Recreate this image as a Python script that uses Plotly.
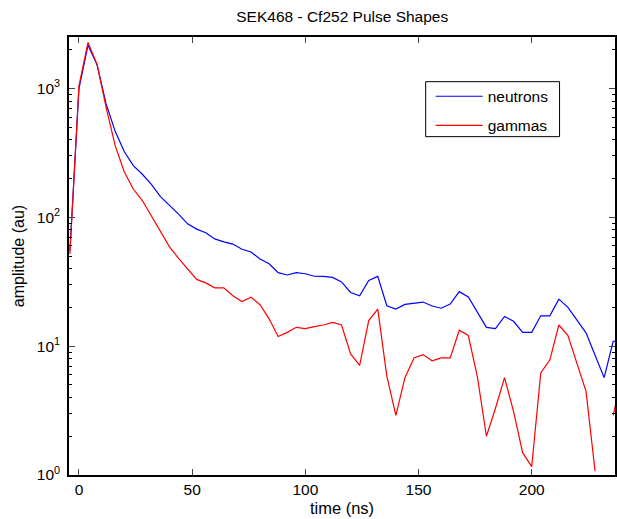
import plotly.graph_objects as go

# time axis (ns)
time_ns = [-4, 0, 4, 8, 12, 16, 20, 24, 28, 32, 36, 40, 44, 48, 52, 56, 60, 64, 68, 72,
           76, 80, 84, 88, 92, 96, 100, 104, 108, 112, 116, 120, 124, 128, 132, 136, 140,
           144, 148, 152, 156, 160, 164, 168, 172, 176, 180, 184, 188, 192, 196, 200, 204,
           208, 212, 216, 220, 224, 228, 232, 236, 240]

neutrons = [55, 1000, 2170, 1530, 760, 465, 324, 252, 216, 180, 145, 125, 106, 89, 81, 76,
            68, 64.5, 62, 56.5, 53.8, 47.5, 43.6, 37.2, 35.7, 37.2, 36.5, 34.9, 34.8, 34.2,
            31.5, 26.1, 24.6, 32.4, 34.8, 20.6, 19.4, 21.1, 21.6, 22.0, 20.5, 19.7, 21.2,
            26.5, 24.1, 18.3, 14.0, 13.7, 17.0, 15.6, 12.8, 12.8, 17.2, 17.2, 23.2, 20.0,
            16.0, 12.7, 8.5, 5.7, 10.9, 11.0]

gammas = [52, 1050, 2280, 1540, 715, 360, 226, 166, 135, 103, 78, 59, 48, 40, 33, 31,
          28.4, 28.4, 24.6, 22.2, 24.0, 21.0, 16.3, 11.9, 12.8, 14.0, 13.7, 14.2, 14.6, 15.3,
          14.6, 8.7, 7.1, 15.8, 19.4, 5.85, 2.9, 5.7, 8.1, 8.6, 7.7, 8.1, 8.1, 13.3, 12.1,
          5.8, 2.0, 3.3, 5.7, 3.1, 1.49, 1.16, 6.2, 7.8, 14.6, 12.1, 7.4, 4.46, 1.07, None,
          2.9, 6.0]

x_ticks = [0, 50, 100, 150, 200]
y_tick_vals = [1, 10, 100, 1000]
y_tick_text = ["10<sup>0</sup>", "10<sup>1</sup>", "10<sup>2</sup>", "10<sup>3</sup>"]
y_minor = [m * d for d in (1, 10, 100, 1000) for m in range(2, 10)]

FONT = "Liberation Sans, Arial, Helvetica, sans-serif"

fig = go.Figure()
fig.add_trace(go.Scatter(x=time_ns, y=neutrons, mode="lines", name="neutrons",
                         line=dict(color="#0000ff", width=1.2), legendgroup="a"))
fig.add_trace(go.Scatter(x=time_ns, y=gammas, mode="lines", name="gammas",
                         line=dict(color="#ff0000", width=1.2), legendgroup="b",
                         connectgaps=False))

# plot area in pixels
L, R, T, B = 69, 615.5, 37.3, 475.5
W, H = R - L, B - T

def px(x):
    return (x - L) / W

def py(y):
    return (B - y) / H

fig.add_shape(type="rect", xref="paper", yref="paper",
              x0=px(426), x1=px(560), y0=py(137), y1=py(82),
              line=dict(color="black", width=1), fillcolor="white", layer="below")

fig.update_layout(
    width=617, height=519,
    margin=dict(l=L, r=617 - R, t=T, b=519 - B),
    paper_bgcolor="white", plot_bgcolor="white",
    font=dict(family=FONT, size=15.5, color="black"),
    title=dict(text="SEK468 - Cf252 Pulse Shapes", x=(L + R) / 2 / 617, xanchor="center",
               y=1 - 17 / 519, yanchor="middle", font=dict(size=15.5)),
    showlegend=True,
    legend=dict(x=px(431), y=py(80), xanchor="left", yanchor="top",
                bgcolor="rgba(0,0,0,0)", borderwidth=0, traceorder="grouped",
                tracegroupgap=6, itemwidth=47, font=dict(size=15.5)),
    xaxis=dict(range=[-4.4, 236.8], tickvals=x_ticks, ticks="inside", ticklen=6,
               showline=True, linecolor="black", linewidth=1.5, mirror="ticks",
               showgrid=False, zeroline=False,
               title=dict(text="time (ns)", standoff=5, font=dict(size=16.5)),
               tickfont=dict(size=15.5)),
    yaxis=dict(type="log", range=[0, 3.4], tickvals=y_tick_vals, ticktext=y_tick_text,
               ticks="inside", ticklen=6, showline=True, linecolor="black", linewidth=1.5,
               mirror="ticks", showgrid=False, zeroline=False,
               title=dict(text="amplitude (au)", standoff=8, font=dict(size=16)),
               minor=dict(tickvals=y_minor, ticks="inside", ticklen=3, tickcolor="black",
                          showgrid=False),
               tickfont=dict(size=15.5), ticklabelstandoff=4),
)

fig.write_html("out.html")
